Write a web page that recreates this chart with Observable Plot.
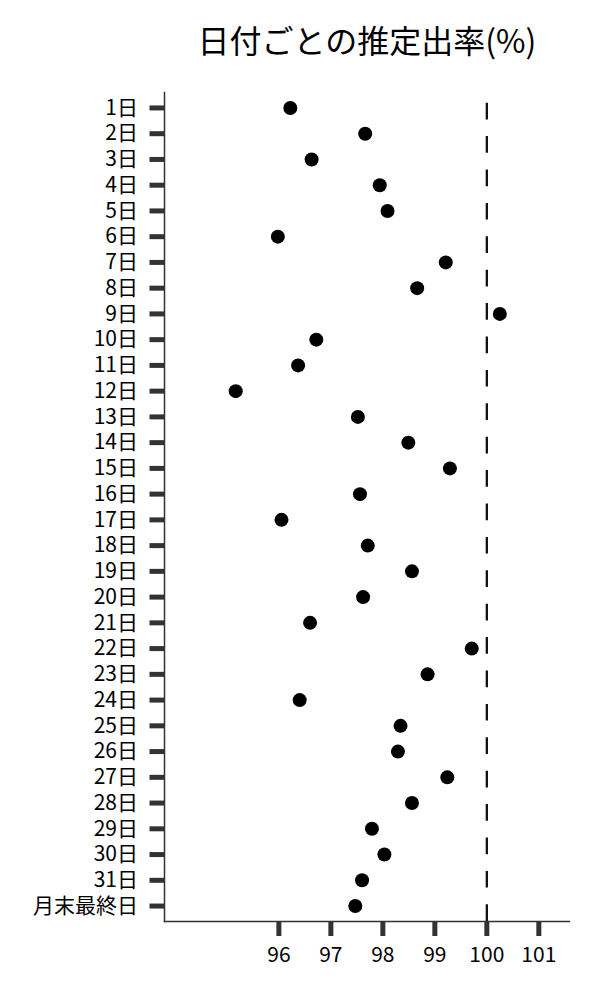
<!DOCTYPE html>
<html>
<head>
<meta charset="utf-8">
<script src="https://cdn.jsdelivr.net/npm/d3@7"></script>
<script src="https://cdn.jsdelivr.net/npm/@observablehq/plot@0.6"></script>
<style>
  body { margin: 0; background: #fff; }
</style>
</head>
<body>
<div id="chart"></div>
<script>
const title = "日付ごとの推定出率(%)";
const days = ["1日","2日","3日","4日","5日","6日","7日","8日","9日","10日",
  "11日","12日","13日","14日","15日","16日","17日","18日","19日","20日",
  "21日","22日","23日","24日","25日","26日","27日","28日","29日","30日","31日","月末最終日"];
const rates = [96.22, 97.66, 96.63, 97.94, 98.09, 95.98, 99.21, 98.66, 100.25, 96.72,
  96.37, 95.17, 97.52, 98.49, 99.29, 97.56, 96.05, 97.71, 98.56, 97.62,
  96.60, 99.71, 98.86, 96.40, 98.34, 98.29, 99.24, 98.56, 97.79, 98.03, 97.60, 97.47];
const xTicks = [96, 97, 98, 99, 100, 101];
const refValue = [100];

const data = days.map((d, i) => ({day: d, rate: rates[i]}));

const chart = Plot.plot({
  width: 600,
  height: 1000,
  marginTop: 92,
  marginBottom: 79,
  marginLeft: 164,
  marginRight: 31,
  style: {fontFamily: '"Noto Sans CJK JP", sans-serif', background: "#fff", color: "#000"},
  x: {domain: [93.80, 101.59], label: null},
  y: {type: "point", domain: days, padding: 0.6, round: false, label: null},
  marks: [
    Plot.axisX({ticks: xTicks, tickSize: 15, tickPadding: 11, strokeWidth: 5, stroke: "#333", fill: "#000", fontSize: 21, tickFormat: d => String(d), label: null}),
    Plot.axisY({tickSize: 14.5, tickPadding: 12, strokeWidth: 5, stroke: "#333", fill: "#000", fontSize: 21, label: null}),
    Plot.frame({anchor: "left", stroke: "#333", strokeWidth: 1.5}),
    Plot.frame({anchor: "bottom", stroke: "#333", strokeWidth: 1.5}),
    Plot.ruleX(refValue, {stroke: "#111", strokeWidth: 2.3, strokeDasharray: "16.7,16.7", strokeDashoffset: 22.7}),
    Plot.dot(data, {x: "rate", y: "day", r: 7, fill: "#000", stroke: null}),
    Plot.text([title], {frameAnchor: "top", dy: -40, lineAnchor: "bottom", fontSize: 32, text: d => d, fill: "#000"})
  ]
});
document.getElementById("chart").appendChild(chart);
</script>
</body>
</html>
